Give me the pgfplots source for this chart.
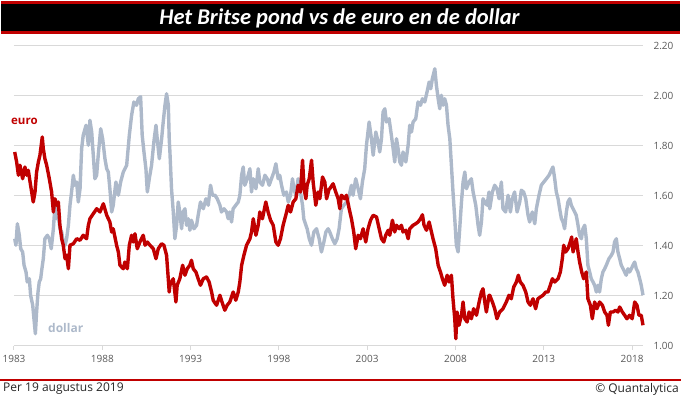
\documentclass[border=0pt]{standalone}
\usepackage{pgfplots}
\pgfplotsset{compat=1.18}
\usepackage{fontspec}
\setmainfont{Open Sans}
\newfontfamily\titlefont{Carlito}
\definecolor{eurored}{HTML}{C00000}
\definecolor{dollargray}{HTML}{ADB9CA}
\definecolor{ticktext}{HTML}{595959}
\definecolor{gridc}{HTML}{D9D9D9}
\begin{document}
\begin{tikzpicture}
\useasboundingbox (0pt,0pt) rectangle (681pt,399pt);
% title bar
\fill[eurored] (1pt,365pt) rectangle (680pt,398pt);
\fill[black] (1pt,368pt) rectangle (680pt,395pt);
\node[text=white,font=\titlefont\bfseries\itshape\fontsize{22.5}{24}\selectfont] at (339.5pt,381pt) {Het Britse pond vs de euro en de dollar};
% footer
\fill[eurored] (0pt,18pt) rectangle (681pt,20pt);
\node[anchor=west,inner sep=0pt,text=black!85,font=\fontsize{12}{14}\selectfont] at (3pt,10pt) {Per 19 augustus 2019};
\node[anchor=east,inner sep=0pt,text=black!85,font=\fontsize{12}{14}\selectfont] at (679pt,10pt) {\textcopyright{} Quantalytica};
\begin{axis}[
  at={(14pt,53pt)}, anchor=south west,
  scale only axis, width=629pt, height=300pt,
  xmin=1983, xmax=2018.62, ymin=1.0, ymax=2.2,
  xtick={1983,1988,1993,1998,2003,2008,2013,2018},
  xticklabels={1983,1988,1993,1998,2003,2008,2013,2018},
  ytick={1.0,1.2,1.4,1.6,1.8,2.0,2.2},
  yticklabel pos=right,
  y tick label style={/pgf/number format/fixed,/pgf/number format/fixed zerofill,/pgf/number format/precision=2},
  /pgf/number format/assume math mode=true,
  ticklabel style={text=ticktext,font=\fontsize{10}{12}\selectfont},
  yticklabel style={anchor=west,xshift=3pt},
  xticklabel style={yshift=-2pt},
  axis line style={draw=none},
  ymajorgrids, grid style={gridc,line width=1pt},
  ytick style={draw=none},
  xtick style={draw=gridc,line width=1pt},
  tick align=outside, major tick length=4pt,
  xtick pos=bottom,
  clip=false,
]
\addplot[dollargray,line width=3.4pt,line join=round] coordinates {
(1983.04,1.429)(1983.11,1.403)(1983.19,1.489)(1983.30,1.443)(1983.38,1.389)(1983.49,1.376)(1983.57,1.323)(1983.68,1.296)(1983.75,1.256)(1983.87,1.269)(1983.94,1.203)(1984.06,1.163)(1984.13,1.109)(1984.21,1.049)(1984.28,1.136)(1984.36,1.216)(1984.43,1.256)(1984.51,1.269)(1984.58,1.309)(1984.66,1.349)(1984.75,1.429)(1984.89,1.443)(1985.00,1.429)(1985.11,1.389)(1985.23,1.469)(1985.32,1.563)(1985.42,1.509)(1985.51,1.523)(1985.60,1.469)(1985.70,1.456)(1985.79,1.416)(1985.89,1.403)(1985.98,1.429)(1986.08,1.483)(1986.17,1.563)(1986.26,1.616)(1986.36,1.683)(1986.45,1.643)(1986.55,1.656)(1986.64,1.576)(1986.74,1.629)(1986.83,1.789)(1986.92,1.843)(1987.08,1.883)(1987.21,1.803)(1987.30,1.903)(1987.40,1.856)(1987.49,1.763)(1987.58,1.669)(1987.68,1.683)(1987.77,1.763)(1987.91,1.869)(1988.02,1.829)(1988.15,1.749)(1988.25,1.709)(1988.34,1.696)(1988.43,1.629)(1988.53,1.536)(1988.62,1.563)(1988.77,1.656)(1988.91,1.603)(1989.04,1.656)(1989.19,1.696)(1989.38,1.723)(1989.53,1.843)(1989.66,1.923)(1989.79,1.976)(1989.94,1.963)(1990.04,1.989)(1990.17,1.997)(1990.26,1.843)(1990.36,1.776)(1990.47,1.709)(1990.55,1.616)(1990.66,1.669)(1990.79,1.723)(1990.92,1.816)(1991.04,1.883)(1991.11,1.829)(1991.23,1.749)(1991.36,1.829)(1991.45,1.896)(1991.55,1.963)(1991.64,2.009)(1991.74,1.963)(1991.79,1.829)
(1991.83,1.776)(1991.92,1.629)(1992.02,1.536)(1992.11,1.429)(1992.21,1.483)(1992.30,1.576)(1992.39,1.536)(1992.49,1.469)(1992.58,1.536)(1992.68,1.549)(1992.77,1.483)(1992.87,1.509)(1992.96,1.463)(1993.05,1.503)(1993.19,1.469)(1993.34,1.483)(1993.43,1.523)(1993.56,1.576)(1993.72,1.549)(1993.87,1.589)(1994.00,1.563)(1994.13,1.643)(1994.24,1.603)(1994.38,1.603)(1994.51,1.589)(1994.66,1.563)(1994.75,1.536)(1994.89,1.549)(1995.04,1.536)(1995.13,1.509)(1995.22,1.536)(1995.32,1.496)(1995.41,1.549)(1995.56,1.563)(1995.70,1.576)(1995.79,1.603)(1995.89,1.683)(1995.98,1.716)(1996.07,1.643)(1996.21,1.669)(1996.36,1.709)(1996.45,1.616)(1996.55,1.669)(1996.70,1.629)(1996.83,1.709)(1996.92,1.656)(1997.07,1.643)(1997.21,1.683)(1997.34,1.669)(1997.45,1.643)(1997.58,1.669)(1997.72,1.696)(1997.83,1.729)(1997.96,1.669)(1998.05,1.683)(1998.15,1.643)(1998.28,1.603)(1998.43,1.616)(1998.53,1.576)(1998.66,1.603)(1998.77,1.669)(1998.85,1.629)(1998.96,1.603)(1999.09,1.669)(1999.22,1.616)(1999.34,1.563)(1999.41,1.509)(1999.53,1.483)(1999.60,1.469)(1999.72,1.429)(1999.85,1.403)(1999.98,1.456)(2000.13,1.469)(2000.28,1.429)(2000.41,1.376)(2000.55,1.416)(2000.66,1.456)(2000.79,1.469)
(2000.88,1.456)(2001.03,1.429)(2001.17,1.409)(2001.30,1.429)(2001.41,1.469)(2001.54,1.549)(2001.68,1.563)(2001.83,1.576)(2001.98,1.603)(2002.11,1.643)(2002.20,1.603)(2002.35,1.669)(2002.49,1.629)(2002.62,1.589)(2002.73,1.656)(2002.86,1.709)(2002.96,1.803)(2003.11,1.896)(2003.24,1.829)(2003.34,1.763)(2003.49,1.856)(2003.62,1.816)(2003.71,1.776)(2003.81,1.829)(2003.90,1.936)(2004.00,1.949)(2004.09,1.896)(2004.24,1.909)(2004.37,1.843)(2004.47,1.789)(2004.56,1.736)(2004.66,1.829)(2004.75,1.789)(2004.85,1.736)(2004.94,1.723)(2005.03,1.776)(2005.19,1.736)(2005.32,1.803)(2005.41,1.883)(2005.51,1.856)(2005.60,1.896)(2005.75,1.909)(2005.88,1.976)(2006.02,1.963)(2006.13,1.989)(2006.26,1.976)(2006.39,2.016)(2006.51,2.056)(2006.60,2.029)(2006.69,2.069)(2006.83,2.109)(2006.92,2.043)(2007.02,1.989)(2007.11,1.949)(2007.20,2.003)(2007.30,1.963)(2007.39,1.989)(2007.49,1.963)(2007.58,1.883)(2007.68,1.829)(2007.77,1.723)(2007.86,1.616)(2007.96,1.509)(2008.05,1.403)(2008.15,1.376)(2008.24,1.469)(2008.34,1.576)(2008.43,1.656)(2008.53,1.696)(2008.62,1.629)(2008.77,1.656)(2008.90,1.669)(2009.00,1.616)(2009.15,1.563)(2009.28,1.483)(2009.37,1.443)(2009.47,1.496)(2009.56,1.589)(2009.66,1.576)(2009.79,1.563)(2009.90,1.616)
(2009.94,1.549)(2010.09,1.616)(2010.22,1.643)(2010.35,1.629)(2010.47,1.589)(2010.60,1.656)(2010.69,1.549)(2010.84,1.536)(2010.98,1.603)(2011.11,1.536)(2011.22,1.589)(2011.35,1.616)(2011.49,1.536)(2011.64,1.576)(2011.73,1.623)(2011.86,1.616)(2011.98,1.589)(2012.11,1.523)(2012.20,1.496)(2012.35,1.536)(2012.49,1.489)(2012.58,1.549)(2012.73,1.603)(2012.86,1.643)(2013.00,1.656)(2013.15,1.669)(2013.30,1.683)(2013.43,1.703)(2013.52,1.716)(2013.62,1.669)(2013.71,1.616)(2013.81,1.589)(2013.90,1.549)(2014.00,1.509)(2014.09,1.496)(2014.18,1.469)(2014.28,1.536)(2014.37,1.576)(2014.47,1.589)(2014.56,1.563)(2014.66,1.549)(2014.75,1.536)(2014.84,1.523)(2014.94,1.483)(2015.03,1.443)(2015.13,1.429)(2015.22,1.469)(2015.32,1.483)(2015.41,1.429)(2015.50,1.323)(2015.60,1.296)(2015.69,1.269)(2015.79,1.256)(2015.88,1.243)(2015.98,1.216)(2016.07,1.243)(2016.16,1.216)(2016.26,1.269)(2016.35,1.296)(2016.45,1.309)(2016.54,1.323)(2016.69,1.349)(2016.83,1.363)(2016.92,1.376)(2017.01,1.416)(2017.11,1.429)(2017.20,1.376)(2017.30,1.349)(2017.39,1.323)(2017.49,1.309)(2017.58,1.296)(2017.67,1.283)(2017.77,1.309)(2017.86,1.296)(2017.96,1.309)(2018.05,1.323)(2018.15,1.336)(2018.24,1.309)(2018.33,1.296)(2018.43,1.269)(2018.52,1.243)(2018.62,1.203)
};
\addplot[eurored,line width=3.4pt,line join=round] coordinates {
(1983.04,1.776)(1983.15,1.736)(1983.25,1.683)(1983.34,1.723)(1983.49,1.669)(1983.62,1.716)(1983.72,1.683)(1983.81,1.703)(1983.91,1.656)(1984.09,1.576)(1984.19,1.616)(1984.28,1.696)(1984.38,1.736)(1984.47,1.763)(1984.60,1.836)(1984.66,1.789)(1984.75,1.749)(1984.85,1.723)(1985.00,1.669)(1985.13,1.616)(1985.23,1.536)(1985.32,1.589)(1985.42,1.563)(1985.51,1.576)(1985.60,1.483)(1985.70,1.429)(1985.79,1.403)(1985.89,1.349)(1985.98,1.363)(1986.08,1.309)(1986.17,1.403)(1986.36,1.409)(1986.55,1.429)(1986.74,1.423)(1986.92,1.443)(1987.11,1.429)(1987.21,1.483)(1987.30,1.509)(1987.49,1.529)(1987.68,1.549)(1987.87,1.536)(1988.06,1.569)(1988.25,1.523)(1988.43,1.496)(1988.53,1.456)(1988.62,1.469)(1988.81,1.403)(1988.91,1.376)(1989.00,1.323)(1989.19,1.309)(1989.28,1.336)(1989.42,1.309)(1989.53,1.403)(1989.66,1.443)(1989.75,1.416)(1989.85,1.449)(1989.98,1.389)(1990.13,1.416)(1990.32,1.443)(1990.42,1.403)(1990.55,1.416)(1990.70,1.403)(1990.89,1.389)(1991.04,1.349)(1991.17,1.389)(1991.36,1.409)(1991.49,1.403)(1991.64,1.363)(1991.79,1.216)
(1991.83,1.243)(1992.02,1.269)(1992.17,1.176)(1992.24,1.243)(1992.39,1.269)(1992.55,1.323)(1992.68,1.283)(1992.81,1.309)(1992.96,1.323)(1993.05,1.343)(1993.15,1.309)(1993.30,1.296)(1993.43,1.269)(1993.56,1.243)(1993.72,1.269)(1993.90,1.276)(1994.05,1.256)(1994.19,1.216)(1994.28,1.183)(1994.47,1.163)(1994.66,1.203)(1994.81,1.169)(1994.94,1.143)(1995.07,1.163)(1995.22,1.176)(1995.41,1.216)(1995.56,1.183)(1995.70,1.216)(1995.79,1.256)(1995.89,1.323)(1996.02,1.363)(1996.17,1.403)(1996.36,1.429)(1996.45,1.456)(1996.55,1.509)(1996.70,1.443)(1996.83,1.483)(1996.92,1.536)(1997.07,1.509)(1997.26,1.576)(1997.39,1.536)(1997.53,1.503)(1997.68,1.483)(1997.83,1.416)(1997.96,1.403)(1998.09,1.429)(1998.24,1.483)(1998.39,1.523)(1998.53,1.563)(1998.66,1.536)(1998.81,1.576)(1998.96,1.589)(1999.09,1.643)(1999.22,1.616)(1999.34,1.743)(1999.43,1.629)(1999.53,1.589)(1999.60,1.643)(1999.72,1.669)(1999.85,1.743)(1999.94,1.656)(2000.09,1.563)(2000.22,1.616)(2000.32,1.589)(2000.47,1.676)(2000.60,1.656)(2000.70,1.589)(2000.85,1.629)
(2000.88,1.629)(2001.07,1.649)(2001.22,1.616)(2001.36,1.589)(2001.45,1.549)(2001.54,1.603)(2001.73,1.589)(2001.83,1.603)(2001.98,1.549)(2002.11,1.509)(2002.24,1.456)(2002.35,1.389)(2002.49,1.443)(2002.62,1.429)(2002.77,1.469)(2002.92,1.416)(2003.05,1.469)(2003.19,1.503)(2003.34,1.523)(2003.53,1.516)(2003.68,1.469)(2003.81,1.429)(2003.94,1.416)(2004.05,1.443)(2004.19,1.463)(2004.28,1.443)(2004.43,1.503)(2004.56,1.456)(2004.66,1.483)(2004.81,1.469)(2004.94,1.483)(2005.03,1.456)(2005.19,1.463)(2005.32,1.429)(2005.41,1.469)(2005.60,1.483)(2005.75,1.489)(2005.88,1.496)(2006.02,1.509)(2006.13,1.525)(2006.22,1.483)(2006.36,1.463)(2006.51,1.496)(2006.64,1.456)(2006.73,1.429)(2006.88,1.389)(2007.02,1.323)(2007.15,1.296)(2007.26,1.269)(2007.39,1.243)(2007.53,1.283)(2007.64,1.256)(2007.77,1.283)(2007.86,1.189)(2007.96,1.109)(2008.02,1.029)(2008.09,1.136)(2008.20,1.083)(2008.34,1.123)(2008.43,1.176)(2008.53,1.109)(2008.66,1.096)(2008.77,1.136)(2008.90,1.109)(2009.03,1.149)(2009.19,1.123)(2009.34,1.176)(2009.47,1.216)(2009.56,1.229)(2009.66,1.176)(2009.75,1.136)(2009.90,1.203)
(2009.94,1.203)(2010.09,1.176)(2010.22,1.149)(2010.35,1.109)(2010.50,1.136)(2010.69,1.149)(2010.88,1.176)(2011.03,1.203)(2011.16,1.189)(2011.30,1.236)(2011.45,1.256)(2011.56,1.283)(2011.67,1.256)(2011.82,1.243)(2011.98,1.216)(2012.11,1.176)(2012.24,1.163)(2012.39,1.189)(2012.54,1.149)(2012.67,1.189)(2012.81,1.196)(2012.96,1.203)(2013.11,1.216)(2013.24,1.216)(2013.37,1.243)(2013.49,1.269)(2013.62,1.256)(2013.81,1.269)(2013.94,1.296)(2014.05,1.349)(2014.13,1.403)(2014.24,1.376)(2014.37,1.389)(2014.50,1.416)(2014.58,1.436)(2014.66,1.376)(2014.75,1.403)(2014.84,1.429)(2014.94,1.376)(2015.03,1.336)(2015.15,1.296)(2015.26,1.269)(2015.41,1.296)(2015.50,1.189)(2015.64,1.163)(2015.75,1.109)(2015.88,1.176)(2016.01,1.149)(2016.16,1.176)(2016.32,1.163)(2016.45,1.136)(2016.58,1.123)(2016.66,1.083)(2016.77,1.136)(2016.92,1.136)(2017.07,1.143)(2017.20,1.136)(2017.30,1.156)(2017.45,1.136)(2017.58,1.123)(2017.71,1.109)(2017.86,1.123)(2018.01,1.109)(2018.15,1.176)(2018.28,1.163)(2018.39,1.123)(2018.52,1.123)(2018.62,1.083)
};
\end{axis}
\node[anchor=base west,inner sep=0pt,text=eurored,font=\bfseries\fontsize{11.5}{13}\selectfont] at (11pt,274pt) {euro};
\node[anchor=base west,inner sep=0pt,text=dollargray,font=\bfseries\fontsize{12}{14}\selectfont] at (48pt,66pt) {dollar};
\end{tikzpicture}
\end{document}
